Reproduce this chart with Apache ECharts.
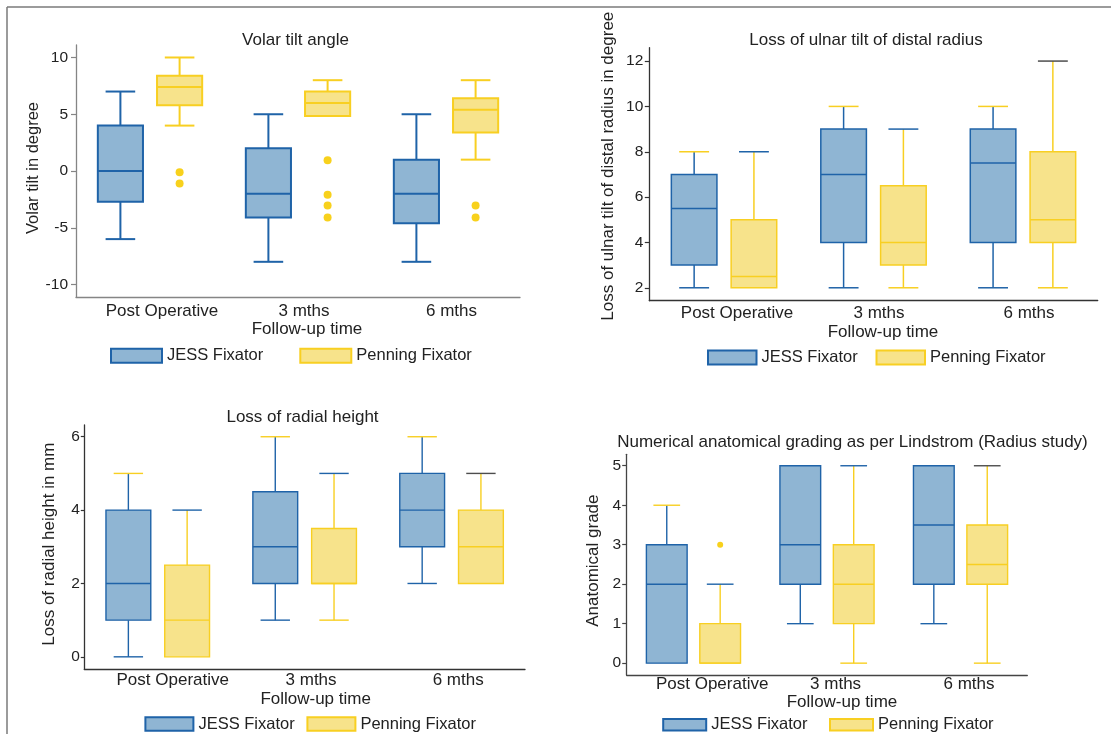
<!DOCTYPE html>
<html><head><meta charset="utf-8">
<script src="https://cdn.jsdelivr.net/npm/echarts@6/dist/echarts.min.js"></script>
<style>html,body{margin:0;padding:0;background:#fff}#c{width:1111px;height:734px}</style>
</head><body><div id="c"></div>
<script>
// ---------- DATA ----------
const categories = ['Post Operative', '3 mths', '6 mths'];
const seriesNames = ['JESS Fixator', 'Penning Fixator'];
const xAxisName = 'Follow-up time';
// each box: [min, Q1, median, Q3, max]
const volarJess = [[-6, -2.7, 0, 4, 7], [-8, -4.1, -2, 2, 5], [-8, -4.6, -2, 1, 5]];
const volarPenning = [[4, 5.8, 7.4, 8.4, 10], [4.85, 4.85, 6, 7, 8], [1, 3.4, 5.4, 6.4, 8]];
const volarPenningOutliers = [[0, -0.1], [0, -1.1], [1, 0.95], [1, -2.1], [1, -3.05], [1, -4.1], [2, -3.05], [2, -4.1]];
const volarTicks = [-10, -5, 0, 5, 10];

const ulnarJess = [[2, 3, 5.5, 7, 8], [2, 4, 7, 9, 10], [2, 4, 7.5, 9, 10]];
const ulnarPenning = [[2, 2, 2.5, 5, 8], [2, 3, 4, 6.5, 9], [2, 4, 5, 8, 12]];
const ulnarTicks = [2, 4, 6, 8, 10, 12];

const heightJess = [[0, 1, 2, 4, 5], [1, 2, 3, 4.5, 6], [2, 3, 4, 5, 6]];
const heightPenning = [[0, 0, 1, 2.5, 4], [1, 2, 2, 3.5, 5], [2, 2, 3, 4, 5]];
const heightTicks = [0, 2, 4, 6];

const gradeJess = [[0, 0, 2, 3, 4], [1, 2, 3, 5, 5], [1, 2, 3.5, 5, 5]];
const gradePenning = [[0, 0, 0, 1, 2], [0, 1, 2, 3, 5], [0, 2, 2.5, 3.5, 5]];
const gradePenningOutliers = [[0, 3]];
const gradeTicks = [0, 1, 2, 3, 4, 5];

// ---------- STYLE ----------
const FONT = '"Liberation Sans", Arial, Helvetica, sans-serif';
const TXT = '#222';
const JF = '#8fb5d3', JL = '#1f63a8', PF = '#f7e38b', PL = '#f8cf22', GR = '#4d4d4d', DOT = '#f8d11c';
const capsNormal = { jessTop: [JL, JL, JL], jessBot: [JL, JL, JL], penTop: [PL, PL, PL], penBot: [PL, PL, PL] };
const capsSwapped = { jessTop: [PL, PL, PL], jessBot: [JL, JL, JL], penTop: [JL, JL, GR], penBot: [PL, PL, PL] };

const panels = [
  { title: 'Volar tilt angle', yName: 'Volar tilt in degree', jess: volarJess, pen: volarPenning, out: volarPenningOutliers, ticks: volarTicks,
    yMin: -11.1, yMax: 11.1, grid: { left: 76, top: 45, width: 444, height: 252 }, axisColor: '#858585', lw: 2,
    yLabelMargin: 8, tickLen: 5, xLabelMargin: 6, shifts: [12, 6, 5.5], xNameGap: 23, xNameShift: 9, yNameGap: 34, yNameShift: 3,
    fs: 16.5, titlePos: [295.5, 39], legend: { jx: 110, px: 299.3, cy: 355.7, w: 51, h: 14 }, caps: capsNormal, dotR: 4 },
  { title: 'Loss of ulnar tilt of distal radius', yName: 'Loss of ulnar tilt of distal radius in degree', jess: ulnarJess, pen: ulnarPenning, out: [], ticks: ulnarTicks,
    yMin: 1.43, yMax: 12.59, grid: { left: 649.3, top: 47.7, width: 448.4, height: 253 }, axisColor: '#333', lw: 1.5,
    yLabelMargin: 6, tickLen: 4.5, xLabelMargin: 4, shifts: [13, 5.5, 6], xNameGap: 23.5, xNameShift: 9.5, yNameGap: 32.6, yNameShift: 8,
    fs: 17, titlePos: [866, 39.3], legend: { jx: 707, px: 875.5, cy: 357.5, w: 48.5, h: 14 }, caps: capsSwapped, dotR: 4 },
  { title: 'Loss of radial height', yName: 'Loss of radial height in mm', jess: heightJess, pen: heightPenning, out: [], ticks: heightTicks,
    yMin: -0.34, yMax: 6.32, grid: { left: 84.3, top: 425, width: 440.7, height: 244.3 }, axisColor: '#333', lw: 1.4,
    yLabelMargin: 4.5, tickLen: 3.5, xLabelMargin: 3, shifts: [15, 6.4, 6.6], xNameGap: 21.7, xNameShift: 11, yNameGap: 26, yNameShift: 3,
    fs: 17, titlePos: [302.5, 416.7], legend: { jx: 144.4, px: 306.4, cy: 724, w: 48, h: 13.5 }, caps: capsSwapped, dotR: 4 },
  { title: 'Numerical anatomical grading as per Lindstrom (Radius study)', yName: 'Anatomical grade', jess: gradeJess, pen: gradePenning, out: gradePenningOutliers, ticks: gradeTicks,
    yMin: -0.3, yMax: 5.29, grid: { left: 626.7, top: 454.3, width: 400.6, height: 220.7 }, axisColor: '#444', lw: 1.4,
    yLabelMargin: 5.7, tickLen: 4.5, xLabelMargin: 1, shifts: [18.7, 8.6, 8.5], xNameGap: 18.7, xNameShift: 15, yNameGap: 24.4, yNameShift: 4,
    fs: 17, titlePos: [852.5, 441.7], legend: { jx: 662.2, px: 829, cy: 724.8, w: 43, h: 11.5 }, caps: capsSwapped, dotR: 3 }
];

function bandOf(api) { return api.coord([1, 0])[0] - api.coord([0, 0])[0]; }

function boxRenderer(side, fill, stroke, lw, capTop, capBot) {
  return function (params, api) {
    const ci = api.value(0);
    const band = bandOf(api);
    const cx = api.coord([ci, 0])[0] + side * band * 0.2;
    const hw = band * 0.1525, cw = band * 0.1;
    const y = k => api.coord([ci, api.value(k)])[1];
    const yMin = y(1), yQ1 = y(2), yMed = y(3), yQ3 = y(4), yMax = y(5);
    const ln = (x1, y1, x2, y2, c) => ({ type: 'line', shape: { x1, y1, x2, y2 }, style: { stroke: c, lineWidth: lw } });
    const ch = [];
    if (yQ3 - yMax > 0.5) { ch.push(ln(cx, yQ3, cx, yMax, stroke)); ch.push(ln(cx - cw, yMax, cx + cw, yMax, capTop[ci])); }
    if (yMin - yQ1 > 0.5) { ch.push(ln(cx, yQ1, cx, yMin, stroke)); ch.push(ln(cx - cw, yMin, cx + cw, yMin, capBot[ci])); }
    ch.push({ type: 'rect', shape: { x: cx - hw, y: yQ3, width: 2 * hw, height: yQ1 - yQ3 }, style: { fill, stroke, lineWidth: lw } });
    ch.push(ln(cx - hw, yMed, cx + hw, yMed, stroke));
    return { type: 'group', children: ch };
  };
}
function dotRenderer(side, color, r) {
  return function (params, api) {
    const ci = api.value(0);
    const band = bandOf(api);
    const p = api.coord([ci, api.value(1)]);
    return { type: 'circle', shape: { cx: p[0] + side * band * 0.2, cy: p[1], r }, style: { fill: color } };
  };
}

const option = { animation: false, textStyle: { fontFamily: FONT }, grid: [], xAxis: [], yAxis: [], series: [], title: [], legend: [],
  graphic: [
    { type: 'line', shape: { x1: 7, y1: 7, x2: 1111, y2: 7 }, style: { stroke: '#7a7a7a', lineWidth: 1.5 } },
    { type: 'line', shape: { x1: 7, y1: 7, x2: 7, y2: 734 }, style: { stroke: '#7a7a7a', lineWidth: 1.5 } }
  ] };

panels.forEach((p, i) => {
  option.grid.push(Object.assign({ containLabel: false }, p.grid));
  const rich = {};
  p.shifts.forEach((s, k) => { rich['c' + k] = { fontSize: 17, color: TXT, fontFamily: FONT, padding: [0, 0, 0, 2 * s] }; });
  option.xAxis.push({ type: 'category', gridIndex: i, data: categories,
    axisLine: { show: true, onZero: false, lineStyle: { color: p.axisColor, width: 1.3 } }, axisTick: { show: false }, splitLine: { show: false },
    axisLabel: { margin: p.xLabelMargin, interval: 0, formatter: (v, k) => '{c' + k + '|' + v + '}', rich },
    name: xAxisName, nameLocation: 'middle', nameGap: p.xNameGap,
    nameTextStyle: { fontSize: 17, color: TXT, padding: [0, 0, 0, 2 * p.xNameShift] } });
  option.yAxis.push({ type: 'value', gridIndex: i, min: p.yMin, max: p.yMax,
    axisLine: { show: true, onZero: false, lineStyle: { color: p.axisColor, width: 1.3 } },
    axisTick: { show: true, length: p.tickLen, customValues: p.ticks, lineStyle: { color: p.axisColor, width: 1.2 } },
    axisLabel: { customValues: p.ticks, margin: p.yLabelMargin, fontSize: 15.5, color: TXT }, splitLine: { show: false },
    name: p.yName, nameLocation: 'middle', nameGap: p.yNameGap,
    nameTextStyle: { fontSize: p.fs, color: TXT, padding: [0, 0, 0, 2 * p.yNameShift] } });
  option.series.push({ type: 'custom', name: seriesNames[0], xAxisIndex: i, yAxisIndex: i,
    itemStyle: { color: JF, borderColor: JL, borderWidth: 2 },
    renderItem: boxRenderer(-1, JF, JL, p.lw, p.caps.jessTop, p.caps.jessBot),
    encode: { x: 0, y: [1, 2, 3, 4, 5] }, data: p.jess.map((b, k) => [k].concat(b)) });
  option.series.push({ type: 'custom', name: seriesNames[1], xAxisIndex: i, yAxisIndex: i,
    itemStyle: { color: PF, borderColor: PL, borderWidth: 2 },
    renderItem: boxRenderer(1, PF, PL, p.lw, p.caps.penTop, p.caps.penBot),
    encode: { x: 0, y: [1, 2, 3, 4, 5] }, data: p.pen.map((b, k) => [k].concat(b)) });
  if (p.out.length) {
    option.series.push({ type: 'custom', name: 'outliers' + i, xAxisIndex: i, yAxisIndex: i,
      renderItem: dotRenderer(1, DOT, p.dotR), encode: { x: 0, y: 1 }, data: p.out });
  }
  option.title.push({ text: p.title, left: p.titlePos[0], top: p.titlePos[1] - 7.5, textAlign: 'center', padding: 0,
    textStyle: { fontSize: 17, fontWeight: 'normal', color: TXT, fontFamily: FONT } });
  const L = p.legend;
  [[seriesNames[0], L.jx, JF, JL], [seriesNames[1], L.px, PF, PL]].forEach(([nm, x, f, s]) => {
    option.legend.push({ left: x, top: L.cy - 9, padding: 0, itemWidth: L.w, itemHeight: L.h, selectedMode: false,
      textStyle: { fontSize: 16.5, color: TXT, fontFamily: FONT, lineHeight: 18 },
      data: [{ name: nm, icon: 'rect', itemStyle: { color: f, borderColor: s, borderWidth: 2 } }] });
  });
});

const chart = echarts.init(document.getElementById('c'), null, { renderer: 'canvas' });
chart.setOption(option);
</script></body></html>
